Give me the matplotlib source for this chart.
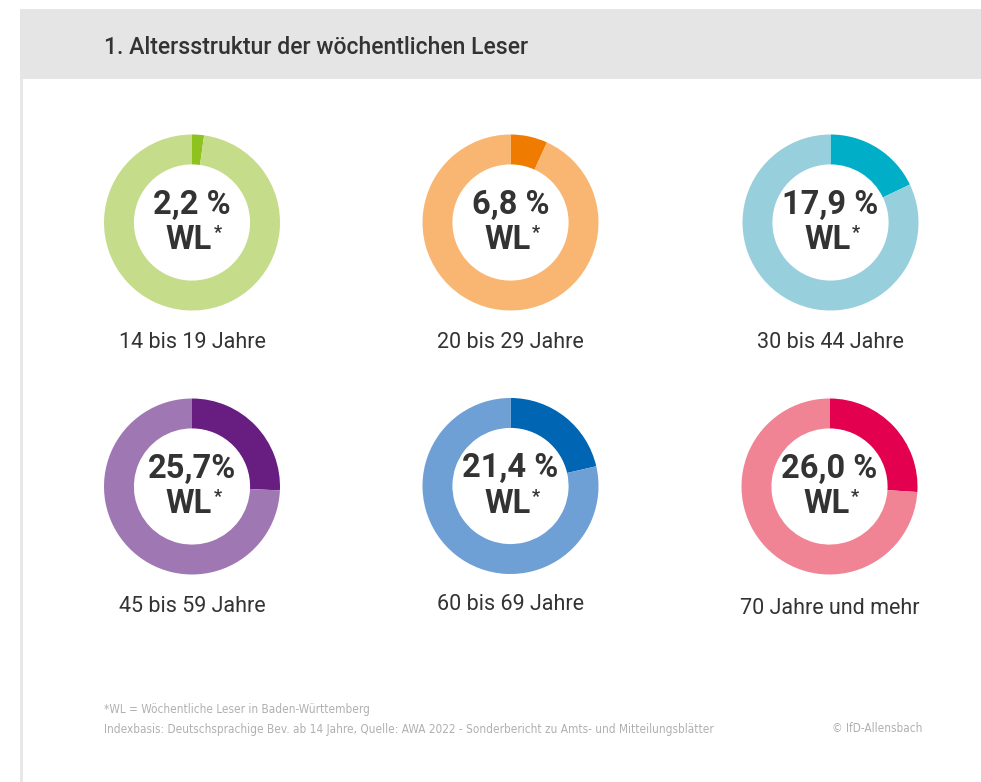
import matplotlib
matplotlib.use("Agg")
import matplotlib.pyplot as plt
from matplotlib.patches import Rectangle
from matplotlib.lines import Line2D

W, H = 981, 782
DPI = 100

# ---- data ----
title = "1. Altersstruktur der wöchentlichen Leser"
groups = ["14 bis 19 Jahre", "20 bis 29 Jahre", "30 bis 44 Jahre",
          "45 bis 59 Jahre", "60 bis 69 Jahre", "70 Jahre und mehr"]
values = [2.2, 6.8, 17.9, 25.7, 21.4, 26.0]
value_labels = ["2,2 %", "6,8 %", "17,9 %", "25,7%", "21,4 %", "26,0 %"]
dark_colors = ["#8dc21f", "#ef7c00", "#00aec7", "#681e81", "#0065b3", "#e3004f"]
light_colors = ["#c5dc8a", "#f8b672", "#98cfdd", "#9f78b3", "#6e9fd5", "#f08494"]
footnote1 = "*WL = Wöchentliche Leser in Baden-Württemberg"
footnote2 = ("Indexbasis: Deutschsprachige Bev. ab 14 Jahre, Quelle: AWA 2022 - "
             "Sonderbericht zu Amts- und Mitteilungsblätter")
copyright_text = "© IfD-Allensbach"

# ---- layout (pixels) ----
centers = [(192, 222.5), (510.5, 222.5), (830.5, 222.5),
           (192, 486.5), (510.5, 486), (829.5, 486.5)]
label_y = [342, 342, 342, 607, 605, 608]
R = 88
ring_width = 0.34

def fx(x):
    return x / W

def fy(y):
    return 1 - y / H

fig = plt.figure(figsize=(W / DPI, H / DPI), dpi=DPI)
fig.patch.set_facecolor("white")

# header band
fig.patches.append(Rectangle((fx(20), fy(79)), fx(W) - fx(20), fy(9) - fy(79),
                             transform=fig.transFigure, facecolor="#e5e5e5",
                             edgecolor="none", zorder=0))
# left border line
fig.lines.append(Line2D([fx(21), fx(21)], [fy(79), fy(782)],
                        transform=fig.transFigure, color="#e6e6e6", lw=2))

fig.text(fx(104), fy(47), title, fontsize=16.6, fontfamily="Roboto",
         fontweight="medium", color="#333333", va="center", ha="left")

for i in range(len(values)):
    cx, cy = centers[i]
    ax = fig.add_axes([fx(cx - R), fy(cy + R), 2 * R / W, 2 * R / H])
    ax.pie([values[i], 100 - values[i]],
           colors=[dark_colors[i], light_colors[i]],
           startangle=90, counterclock=False, radius=1,
           wedgeprops=dict(width=ring_width, linewidth=0))
    ax.set_xlim(-1, 1)
    ax.set_ylim(-1, 1)
    ax.set_aspect("equal")
    ax.axis("off")
    ax.text(0, 0.2, value_labels[i], ha="center", va="center",
            fontsize=23.5, fontweight="bold", fontfamily="Roboto", color="#333333")
    ax.text(0.225, -0.2, "WL", ha="right", va="center",
            fontsize=23.5, fontweight="bold", fontfamily="Roboto", color="#333333")
    ax.text(0.245, -0.12, "*", ha="left", va="center",
            fontsize=13, fontweight="bold", fontfamily="Roboto", color="#333333")
    fig.text(fx(cx), fy(label_y[i]), groups[i], ha="center", va="center",
             fontsize=15.5, fontfamily="Roboto", color="#333333")

foot_kw = dict(family="DejaVu Sans", fontstretch="condensed", color="#b0b0b0",
               va="center")
f1 = fig.text(fx(104), fy(710), footnote1, fontsize=9.2, ha="left", **foot_kw)
f2 = fig.text(fx(104), fy(729), footnote2, fontsize=9.2, ha="left", **foot_kw)
f3 = fig.text(fx(922), fy(729), copyright_text, fontsize=9.2, ha="right", **foot_kw)

# fit the footnote width to the reference line length (~602 px)
fig.canvas.draw()
r = fig.canvas.get_renderer()
w2 = f2.get_window_extent(r).width
scale = 602 / w2
for t in (f1, f2, f3):
    t.set_fontsize(9.2 * scale)

fig.savefig("out.png", dpi=DPI)
